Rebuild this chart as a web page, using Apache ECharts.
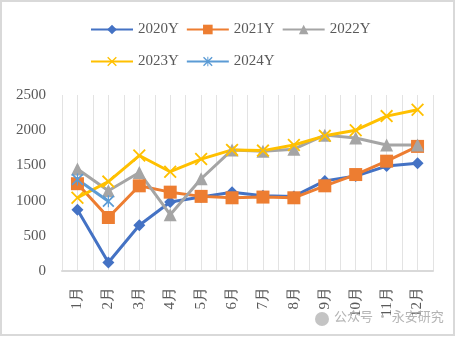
<!DOCTYPE html>
<html><head><meta charset="utf-8">
<script src="https://cdn.jsdelivr.net/npm/echarts@6/dist/echarts.min.js"></script>
<style>html,body{margin:0;padding:0;background:#fff}#c{width:456px;height:337px}</style>
</head><body><div id="c"></div>
<script>
const categories = ['1月','2月','3月','4月','5月','6月','7月','8月','9月','10月','11月','12月'];
const s2020 = [870, 120, 650, 980, 1050, 1120, 1070, 1060, 1280, 1350, 1490, 1530];
const s2021 = [1240, 760, 1210, 1120, 1060, 1040, 1050, 1040, 1210, 1370, 1560, 1770];
const s2022 = [1450, 1140, 1400, 800, 1310, 1720, 1700, 1730, 1930, 1890, 1790, 1790];
const s2023 = [1040, 1270, 1640, 1410, 1590, 1720, 1710, 1790, 1920, 2000, 2200, 2290];
const s2024 = [1300, 990];
const seriesNames = ['2020Y','2021Y','2022Y','2023Y','2024Y'];
const yTicks = [0, 500, 1000, 1500, 2000, 2500];

const font = 'Liberation Serif';
const txt = '#595959';
const X_PATH = 'path://M0,2 L2,0 L10,8 L18,0 L20,2 L12,10 L20,18 L18,20 L10,12 L2,20 L0,18 L8,10 Z';
const STAR_PATH = 'path://M0,2 L2,0 L10,8 L18,0 L20,2 L12,10 L20,18 L18,20 L10,12 L2,20 L0,18 L8,10 Z M9,0 L11,0 L11,20 L9,20 Z';

function mk(name, data, color, symbol, size) {
  return {
    name, type: 'line', data, xAxisIndex: 0, yAxisIndex: 0,
    symbol, symbolSize: size,
    lineStyle: { color, width: 3 },
    itemStyle: { color },
    emphasis: { disabled: true },
    animation: false
  };
}

const legendCommon = { itemWidth: 42, itemHeight: 12, itemGap: 7,
  textStyle: { color: txt, fontSize: 15, fontFamily: font } };

const chart = echarts.init(document.getElementById('c'), null, { renderer: 'canvas' });
chart.setOption({
  animation: false,
  textStyle: { fontFamily: font },
  graphic: [
    { type: 'rect', shape: { x: 1, y: 1, width: 453, height: 334 }, style: { fill: 'none', stroke: '#d9d9d9', lineWidth: 2 }, z: -1 },
    { type: 'text', left: 334, top: 310, style: { text: '公众号 · 永安研究', fill: '#b4b4b4', font: '13px "Noto Sans CJK SC"' }, z: 10 },
    { type: 'circle', shape: { cx: 322, cy: 319, r: 7 }, style: { fill: '#c4c4c4' }, z: 10 }
  ],
  legend: [
    Object.assign({ data: seriesNames.slice(0, 3), left: 85, top: 17 }, legendCommon),
    Object.assign({ data: seriesNames.slice(3), left: 85, top: 49 }, legendCommon)
  ],
  grid: { left: 62, right: 23, top: 95, bottom: 66 },
  xAxis: [
    { type: 'category', data: categories, boundaryGap: true,
      axisLine: { show: true, lineStyle: { color: '#d9d9d9', width: 2 } },
      axisTick: { show: false },
      splitLine: { show: false },
      axisLabel: { rotate: 90, color: txt, fontSize: 15, fontFamily: font, margin: 16, interval: 0 } },
    { type: 'value', min: 0, max: 12, interval: 0.5, show: true, position: 'bottom',
      axisLine: { show: false }, axisTick: { show: false }, axisLabel: { show: false },
      splitLine: { show: true, lineStyle: { color: '#e3e3e3', width: 1 } } }
  ],
  yAxis: { type: 'value', min: 0, max: 2500, interval: 500,
    axisLine: { show: false }, axisTick: { show: false }, splitLine: { show: false },
    axisLabel: { color: txt, fontSize: 15, fontFamily: font, margin: 16,
      formatter: function (v) { return String(v); },
      customValues: yTicks } },
  series: [
    mk('2020Y', s2020, '#4472C4', 'diamond', 12),
    mk('2021Y', s2021, '#ED7D31', 'rect', 13),
    mk('2022Y', s2022, '#A5A5A5', 'triangle', 13),
    mk('2023Y', s2023, '#FFC000', X_PATH, 13),
    mk('2024Y', s2024, '#5B9BD5', STAR_PATH, 12)
  ]
});
</script></body></html>
